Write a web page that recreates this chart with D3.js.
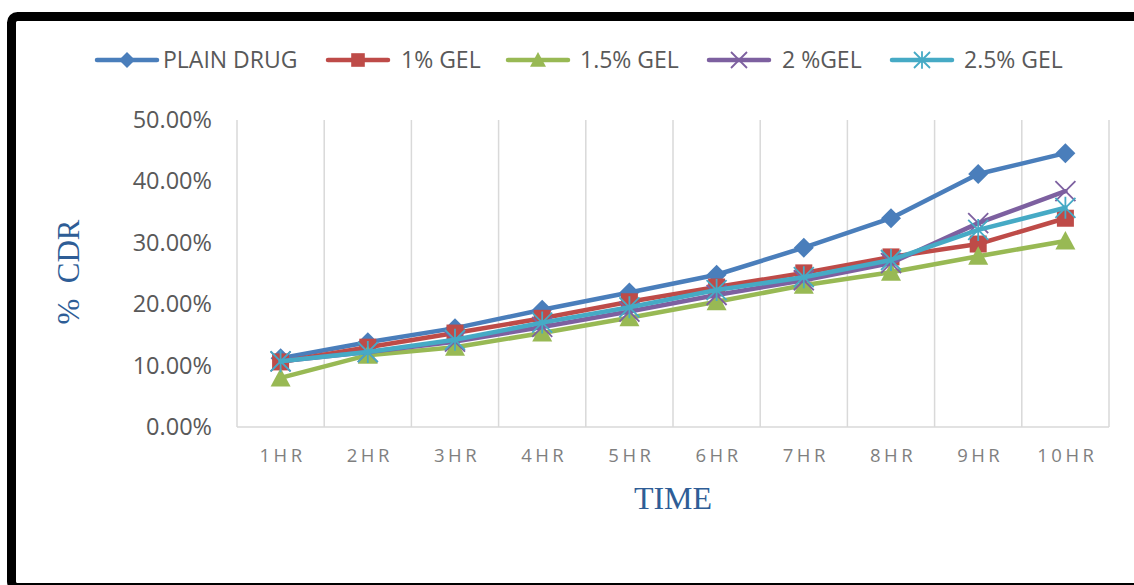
<!DOCTYPE html>
<html><head><meta charset="utf-8">
<script src="https://cdn.jsdelivr.net/npm/d3@7"></script>
<style>body{margin:0;background:#fff;}svg{display:block;}</style>
</head><body>
<svg id="c" width="1134" height="585"></svg>
<script>
const categories = ["1HR","2HR","3HR","4HR","5HR","6HR","7HR","8HR","9HR","10HR"];
const yTicks = [0, 0.1, 0.2, 0.3, 0.4, 0.5];
const seriesNames = ["PLAIN DRUG","1% GEL","1.5% GEL","2 %GEL","2.5% GEL"];
const plainDrug = [0.112, 0.138, 0.161, 0.191, 0.219, 0.248, 0.292, 0.340, 0.412, 0.446];
const gel1 = [0.106, 0.130, 0.153, 0.177, 0.204, 0.228, 0.251, 0.277, 0.298, 0.340];
const gel15 = [0.080, 0.117, 0.130, 0.153, 0.178, 0.204, 0.231, 0.252, 0.278, 0.303];
const gel2 = [0.107, 0.122, 0.139, 0.163, 0.188, 0.215, 0.239, 0.267, 0.332, 0.384];
const gel25 = [0.107, 0.122, 0.142, 0.170, 0.195, 0.223, 0.244, 0.272, 0.321, 0.357];
const colors = ["#4A7EBB","#BE4B48","#98B954","#7D60A0","#46AAC5"];
const markers = ["diamond","square","triangle","x","star"];
const seriesValues = [plainDrug, gel1, gel15, gel2, gel25];

const svg = d3.select("#c");
svg.append("rect").attr("x",11.5).attr("y",16.5).attr("width",1140).attr("height",571)
  .attr("rx",6).attr("fill","none").attr("stroke","#000").attr("stroke-width",9);

const L=237, R=1109, T=120, B=427;
const x = d3.scaleBand().domain(categories).range([L,R]).padding(0);
const y = d3.scaleLinear().domain([0,0.5]).range([B,T]);

const bounds = categories.map(c=>x(c)).concat([R]);
svg.append("g").selectAll("line").data(bounds).join("line")
  .attr("x1",d=>d).attr("x2",d=>d).attr("y1",T).attr("y2",B)
  .attr("stroke","#d9d9d9").attr("stroke-width",1.5);
svg.append("line").attr("x1",L).attr("x2",R).attr("y1",B).attr("y2",B)
  .attr("stroke","#d9d9d9").attr("stroke-width",1.5);

const yAxis = d3.axisLeft(y).tickValues(yTicks).tickFormat(d=>d3.format(".2%")(d)).tickSize(0).tickPadding(25);
const gy = svg.append("g").attr("transform",`translate(${L},0)`).call(yAxis);
gy.select(".domain").remove();
gy.selectAll("text").attr("font-family","'Open Sans', sans-serif").attr("font-size",23.5).attr("fill","#595959");

const xAxis = d3.axisBottom(x).tickSize(0).tickPadding(22);
const gx = svg.append("g").attr("transform",`translate(0,${B})`).call(xAxis);
gx.select(".domain").remove();
gx.selectAll("text").attr("font-family","'Open Sans', sans-serif").attr("font-size",18.5).attr("fill","#7f7f7f")
  .attr("letter-spacing","3.5px").attr("dx","2");

svg.append("text").attr("x",673).attr("y",509).attr("text-anchor","middle")
  .attr("font-family","'Liberation Serif', 'DejaVu Serif', serif").attr("font-size",32)
  .attr("fill","#2E5D96").text("TIME");
svg.append("text").attr("transform","translate(79,272) rotate(-90)").attr("text-anchor","middle")
  .attr("font-family","'Liberation Serif', 'DejaVu Serif', serif").attr("font-size",31)
  .attr("fill","#2E5D96").attr("xml:space","preserve").text("%  CDR");

function drawMarker(g, type, cx, cy, color, s){
  if(type==="diamond"){
    g.append("path").attr("d",`M${cx},${cy-s}L${cx+s},${cy}L${cx},${cy+s}L${cx-s},${cy}Z`).attr("fill",color);
  } else if(type==="square"){
    g.append("rect").attr("x",cx-s*0.85).attr("y",cy-s*0.85).attr("width",s*1.7).attr("height",s*1.7).attr("fill",color);
  } else if(type==="triangle"){
    g.append("path").attr("d",`M${cx},${cy-s}L${cx+s},${cy+s*0.85}L${cx-s},${cy+s*0.85}Z`).attr("fill",color);
  } else if(type==="x"){
    g.append("path").attr("d",`M${cx-s},${cy-s}L${cx+s},${cy+s}M${cx+s},${cy-s}L${cx-s},${cy+s}`).attr("stroke",color).attr("stroke-width",1.8).attr("fill","none");
  } else if(type==="star"){
    g.append("path").attr("d",`M${cx-s},${cy-s}L${cx+s},${cy+s}M${cx+s},${cy-s}L${cx-s},${cy+s}M${cx},${cy-s*1.1}L${cx},${cy+s*1.1}`).attr("stroke",color).attr("stroke-width",1.8).attr("fill","none");
  }
}

const line = d3.line().x((d,i)=>x(categories[i])+x.bandwidth()/2).y(d=>y(d));
seriesValues.forEach((vals,si)=>{
  const g = svg.append("g");
  g.append("path").datum(vals).attr("d",line).attr("fill","none")
    .attr("stroke",colors[si]).attr("stroke-width",4.5).attr("stroke-linejoin","round").attr("stroke-linecap","round");
  vals.forEach((v,i)=>{
    drawMarker(g, markers[si], x(categories[i])+x.bandwidth()/2, y(v), colors[si], 10);
  });
});

const legX = [97, 328, 508, 709, 892];
const legTextX = [163, 401, 580, 782, 964];
const legY = 60;
seriesNames.forEach((n,i)=>{
  const g = svg.append("g");
  g.append("line").attr("x1",legX[i]).attr("x2",legX[i]+60).attr("y1",legY).attr("y2",legY)
    .attr("stroke",colors[i]).attr("stroke-width",4.5).attr("stroke-linecap","round");
  drawMarker(g, markers[i], legX[i]+30, legY, colors[i], i===2?8:8);
  g.append("text").attr("x",legTextX[i]).attr("y",legY+8).attr("font-family","'Open Sans', sans-serif")
    .attr("font-size",23).attr("fill","#595959").text(n);
});
</script>
</body></html>
